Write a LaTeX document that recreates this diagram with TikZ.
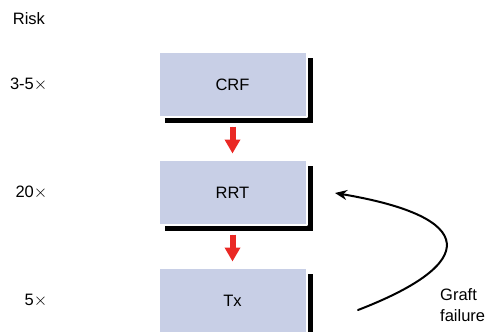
\documentclass[tikz,border=0pt]{standalone}
\usepackage{fontspec}
\setmainfont{Liberation Sans}
\usetikzlibrary{positioning,arrows.meta,shadows}
\definecolor{hopxanh}{RGB}{200,207,230}
\definecolor{doten}{RGB}{234,40,36}

\begin{document}
\begin{tikzpicture}[x=1pt, y=-1pt, line cap=round, line join=round, font=\fontsize{16.5}{21}\selectfont]
	\tikzset{
		hop/.style={fill=hopxanh, draw=white, line width=2pt, minimum width=148pt, minimum height=65pt, inner sep=0pt,
			drop shadow={shadow xshift=6pt, shadow yshift=-6pt, fill=black, opacity=1}},
		nhan/.style={inner sep=0pt},
		muiten/.style={draw=doten, fill=doten, line width=6pt, line cap=butt, -{Triangle[width=15pt, length=14pt]}, shorten <=8.5pt, shorten >=5.5pt}
	}
	\useasboundingbox (0,0) rectangle (493,332);
	
	% CÁC HỘP
	\node[hop] (crf) at (232.5,84.5) {CRF};
	\node[hop, below=41pt of crf] (rrt) {RRT};
	\node[hop, below=41pt of rrt] (tx) {Tx};
	
	% MŨI TÊN ĐỎ
	\draw[muiten] (crf) -- (rrt);
	\draw[muiten] (rrt) -- (tx);
	
	% NHÃN NGUY CƠ
	\node[nhan, anchor=west] (ruiro) at (12.7,19) {Risk};
	\node[nhan, left=110pt of crf] (nc1) {3-5$\times$};
	\node[nhan, left=110pt of rrt] (nc2) {20$\times$};
	\node[nhan, left=110pt of tx] (nc3) {5$\times$};
	
	% THẢI GHÉP
	\coordinate (dau) at ([xshift=50.5pt, yshift=-9.5pt]tx.east);
	\coordinate (cuoi) at ([xshift=27.5pt, yshift=-0.5pt]rrt.east);
	\draw[line width=2pt, -{Stealth[length=12pt, width=10pt]}] (dau) .. controls +(122,-47) and +(143,24) .. (cuoi);
	\node[nhan, anchor=north west, align=left] (hong) at (440,288) {Graft\\failure};
\end{tikzpicture}
\end{document}
